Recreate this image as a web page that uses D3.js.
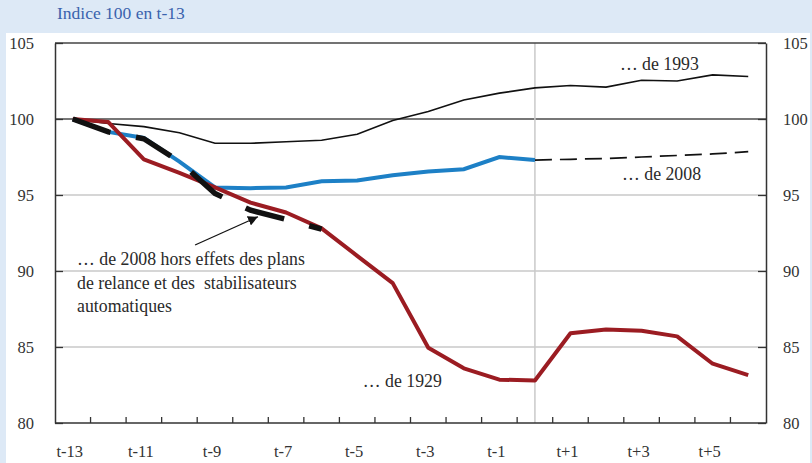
<!DOCTYPE html>
<html><head><meta charset="utf-8">
<script src="https://cdn.jsdelivr.net/npm/d3@7"></script>
<style>
html,body{margin:0;padding:0;background:#dde9f6;}
svg{display:block;}
text{font-family:"Liberation Serif","Times New Roman",serif;}
</style></head>
<body>
<svg id="chart" width="812" height="463"></svg>
<script>
const categories = ["t-13","t-12","t-11","t-10","t-9","t-8","t-7","t-6","t-5","t-4","t-3","t-2","t-1","t0","t+1","t+2","t+3","t+4","t+5","t+6"];
const tickLabels = ["t-13","t-11","t-9","t-7","t-5","t-3","t-1","t+1","t+3","t+5"];
const yTicks = [80,85,90,95,100,105];
const crisis1993 = [100,99.7,99.5,99.1,98.4,98.4,98.5,98.6,99.0,99.9,100.5,101.25,101.7,102.05,102.2,102.1,102.55,102.5,102.9,102.8];
const crisis2008 = [100,99.15,98.75,97.2,95.5,95.45,95.5,95.9,95.95,96.3,96.55,96.7,97.5,97.3];
const crisis2008Forecast = [97.3,97.35,97.4,97.5,97.6,97.7,97.85];
const crisis1929 = [100,99.8,97.35,96.45,95.5,94.5,93.85,92.8,91.0,89.2,84.95,83.6,82.85,82.8,85.9,86.15,86.07,85.7,83.9,83.15];
const crisis2008NoStimulus = [100,99.15,98.7,97.2,95.1,94.0,93.4,92.75];

const svg = d3.select("#chart");
svg.append("rect").attr("x",6).attr("y",33).attr("width",804).attr("height",430).attr("fill","#ffffff");
svg.append("text").attr("x",57).attr("y",19).attr("font-size",17.5).attr("fill","#3a62ad").text("Indice 100 en t-13");

const L=55,R=766,T=43,B=423;
const x = d3.scaleBand().domain(categories).range([L,R]).padding(0);
const cx = c => x(c)+x.bandwidth()/2;
const y = d3.scaleLinear().domain([80,105]).range([B,T]);
const xi = d3.scaleLinear().domain([0,categories.length-1]).range([cx(categories[0]),cx(categories[categories.length-1])]);

svg.append("g").selectAll("line").data(yTicks.filter(v=>v>80&&v<105)).join("line")
  .attr("x1",L).attr("x2",R).attr("y1",d=>y(d)).attr("y2",d=>y(d))
  .attr("stroke",d=>d===100?"#4a4a4a":"#c9c9c9").attr("stroke-width",d=>d===100?1.4:1.5);
svg.append("line").attr("x1",cx("t0")).attr("x2",cx("t0")).attr("y1",T).attr("y2",B)
  .attr("stroke","#c9c9c9").attr("stroke-width",1.5);

svg.append("line").attr("x1",L).attr("x2",R).attr("y1",y(105)).attr("y2",y(105)).attr("stroke","#444").attr("stroke-width",1.4);

const yl = svg.append("g").attr("transform",`translate(${L},0)`)
  .call(d3.axisLeft(y).tickValues(yTicks).tickSize(-8).tickSizeOuter(0).tickPadding(21).tickFormat(d3.format("d")));
const yr = svg.append("g").attr("transform",`translate(${R},0)`)
  .call(d3.axisRight(y).tickValues(yTicks).tickSize(-8).tickSizeOuter(0).tickPadding(17).tickFormat(d3.format("d")));
[yl,yr].forEach(g=>{
  g.select(".domain").attr("stroke","#333").attr("stroke-width",1.5);
  g.selectAll(".tick line").attr("stroke","#333").attr("stroke-width",1.3);
  g.selectAll(".tick text").attr("font-family","Liberation Serif, serif").attr("font-size",16.5).attr("fill","#333");
});

const xa = svg.append("g").attr("transform",`translate(0,${B})`)
  .call(d3.axisBottom(x).tickValues(tickLabels).tickSize(0).tickPadding(22));
xa.select(".domain").attr("stroke","#333").attr("stroke-width",1.5).attr("d",`M${L},0H${R}`);
xa.selectAll(".tick text").attr("font-family","Liberation Serif, serif").attr("font-size",16.5).attr("fill","#333").attr("dx",-3);
svg.append("g").selectAll("line").data(categories.slice(1)).join("line")
  .attr("x1",d=>x(d)).attr("x2",d=>x(d)).attr("y1",B).attr("y2",B-6)
  .attr("stroke","#333").attr("stroke-width",1.3);

const line = d3.line().x((d,i)=>xi(i)).y(d=>y(d));
const lineOff = off => d3.line().x((d,i)=>xi(i+off)).y(d=>y(d));

svg.append("path").attr("d",line(crisis1993)).attr("fill","none").attr("stroke","#111").attr("stroke-width",1.6);
svg.append("path").attr("d",line(crisis2008)).attr("fill","none").attr("stroke","#1d80c6").attr("stroke-width",4);
svg.append("path").attr("d",lineOff(crisis2008.length-1)(crisis2008Forecast)).attr("fill","none").attr("stroke","#111").attr("stroke-width",1.7).attr("stroke-dasharray","17,8");
svg.append("path").attr("d",line(crisis1929)).attr("fill","none").attr("stroke","#9b1c22").attr("stroke-width",4).attr("stroke-linejoin","round");
svg.append("path").attr("d",line(crisis2008NoStimulus)).attr("fill","none").attr("stroke","#111").attr("stroke-width",5.5).attr("stroke-dasharray","40,26");

const tc = "#2a2a2a", fs = 17.8;
svg.append("text").attr("x",xi(15.39)).attr("y",y(103.22)).attr("font-size",fs).attr("fill",tc).text("… de 1993");
svg.append("text").attr("x",xi(15.45)).attr("y",y(95.99)).attr("font-size",fs).attr("fill",tc).text("… de 2008");
svg.append("text").attr("x",xi(8.16)).attr("y",y(82.37)).attr("font-size",fs).attr("fill",tc).text("… de 1929");
const ht = svg.append("text").attr("x",xi(0.12)).attr("y",y(90.39)).attr("font-size",fs).attr("fill",tc);
["… de 2008 hors effets des plans","de relance et des  stabilisateurs","automatiques"].forEach((s,i)=>{
  ht.append("tspan").attr("x",xi(0.12)).attr("dy",i===0?0:23.5).attr("xml:space","preserve").text(s);
});
svg.append("defs").append("marker").attr("id","ah").attr("viewBox","0 0 10 10").attr("refX",10).attr("refY",5)
  .attr("markerWidth",10).attr("markerHeight",10).attr("markerUnits","userSpaceOnUse").attr("orient","auto")
  .append("path").attr("d","M0,0L10,5L0,10Z").attr("fill","#111");
svg.append("line").attr("x1",xi(3.44)).attr("y1",y(91.71)).attr("x2",xi(5.21)).attr("y2",y(93.57))
  .attr("stroke","#111").attr("stroke-width",1.2).attr("marker-end","url(#ah)");
</script>
</body></html>
